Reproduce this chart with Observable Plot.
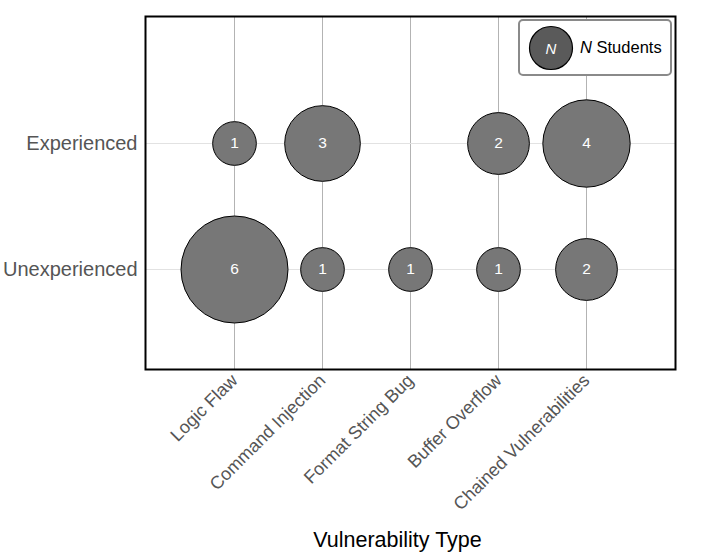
<!DOCTYPE html>
<html>
<head>
<meta charset="utf-8">
<script src="https://cdn.jsdelivr.net/npm/d3@7"></script>
<script src="https://cdn.jsdelivr.net/npm/@observablehq/plot@0.6"></script>
<style>
  html, body { margin: 0; padding: 0; background: #fff; }
  #wrap { position: relative; width: 727px; height: 552px; font-family: "Liberation Sans", Arial, Helvetica, sans-serif; }
  #legend { position: absolute; left: 518px; top: 19px; width: 150px; height: 53px; border: 2px solid #8a8a8a; border-radius: 5px; background: #fff; display: flex; align-items: center; }
  #legend svg { margin-left: 8px; }
  #legend span { margin-left: 6px; font-size: 16.5px; color: #000; }
</style>
</head>
<body>
<div id="wrap"></div>
<script>
const types = ["Logic Flaw", "Command Injection", "Format String Bug", "Buffer Overflow", "Chained Vulnerabilities"];
const levels = ["Experienced", "Unexperienced"];
const experienced = [1, 3, 0, 2, 4];
const unexperienced = [6, 1, 1, 1, 2];

const data = [];
types.forEach((t, i) => {
  if (experienced[i] > 0) data.push({type: t, level: levels[0], n: experienced[i]});
  if (unexperienced[i] > 0) data.push({type: t, level: levels[1], n: unexperienced[i]});
});

const chart = Plot.plot({
  width: 727,
  height: 552,
  marginLeft: 145,
  marginRight: 52,
  marginTop: 16,
  marginBottom: 183,
  style: {fontFamily: '"Liberation Sans", Arial, Helvetica, sans-serif', background: "#fff"},
  x: {type: "point", domain: types, padding: 1},
  y: {type: "point", domain: levels, range: [143, 269], padding: 0},
  r: {type: "sqrt", domain: [0, 6], range: [0, 53.5]},
  marks: [
    Plot.gridX({stroke: "#b3b3b3", strokeOpacity: 1, strokeWidth: 1}),
    Plot.gridY({stroke: "#e2e2e2", strokeOpacity: 1, strokeWidth: 1}),
    Plot.frame({stroke: "#000", strokeWidth: 2}),
    Plot.dot(data, {x: "type", y: "level", r: "n", fill: "#777", fillOpacity: 1, stroke: "#000", strokeWidth: 1}),
    Plot.text(data, {x: "type", y: "level", text: d => String(d.n), fill: "#fff", fontSize: 15.5}),
    Plot.axisY({tickSize: 0, tickPadding: 8, fontSize: 20, fill: "#555", label: null}),
    Plot.axisX({tickSize: 0, tickPadding: 8, tickRotate: -45, textAnchor: "end", fontSize: 18, fill: "#555",
      label: "Vulnerability Type", labelAnchor: "center", labelOffset: 177, labelArrow: "none"})
  ]
});

const wrap = document.getElementById("wrap");
wrap.appendChild(chart);
// make axis label black, larger, and centred where the reference puts it
chart.querySelectorAll("g[aria-label='x-axis label']").forEach(g => {
  g.setAttribute("transform", (g.getAttribute("transform") || "") + " translate(-13,0)");
  g.querySelectorAll("text").forEach(t => { t.setAttribute("fill", "#000"); t.setAttribute("font-size", "21.5"); });
});

const legend = document.createElement("div");
legend.id = "legend";
legend.innerHTML = '<svg width="46" height="46"><circle cx="23" cy="23" r="21.5" fill="#5a5a5a" stroke="#000" stroke-width="1.2"></circle><text x="23" y="28.5" text-anchor="middle" fill="#fff" font-size="15" font-style="italic" font-family="Liberation Sans, Arial, sans-serif">N</text></svg><span><i>N</i> Students</span>';
wrap.appendChild(legend);
</script>
</body>
</html>
